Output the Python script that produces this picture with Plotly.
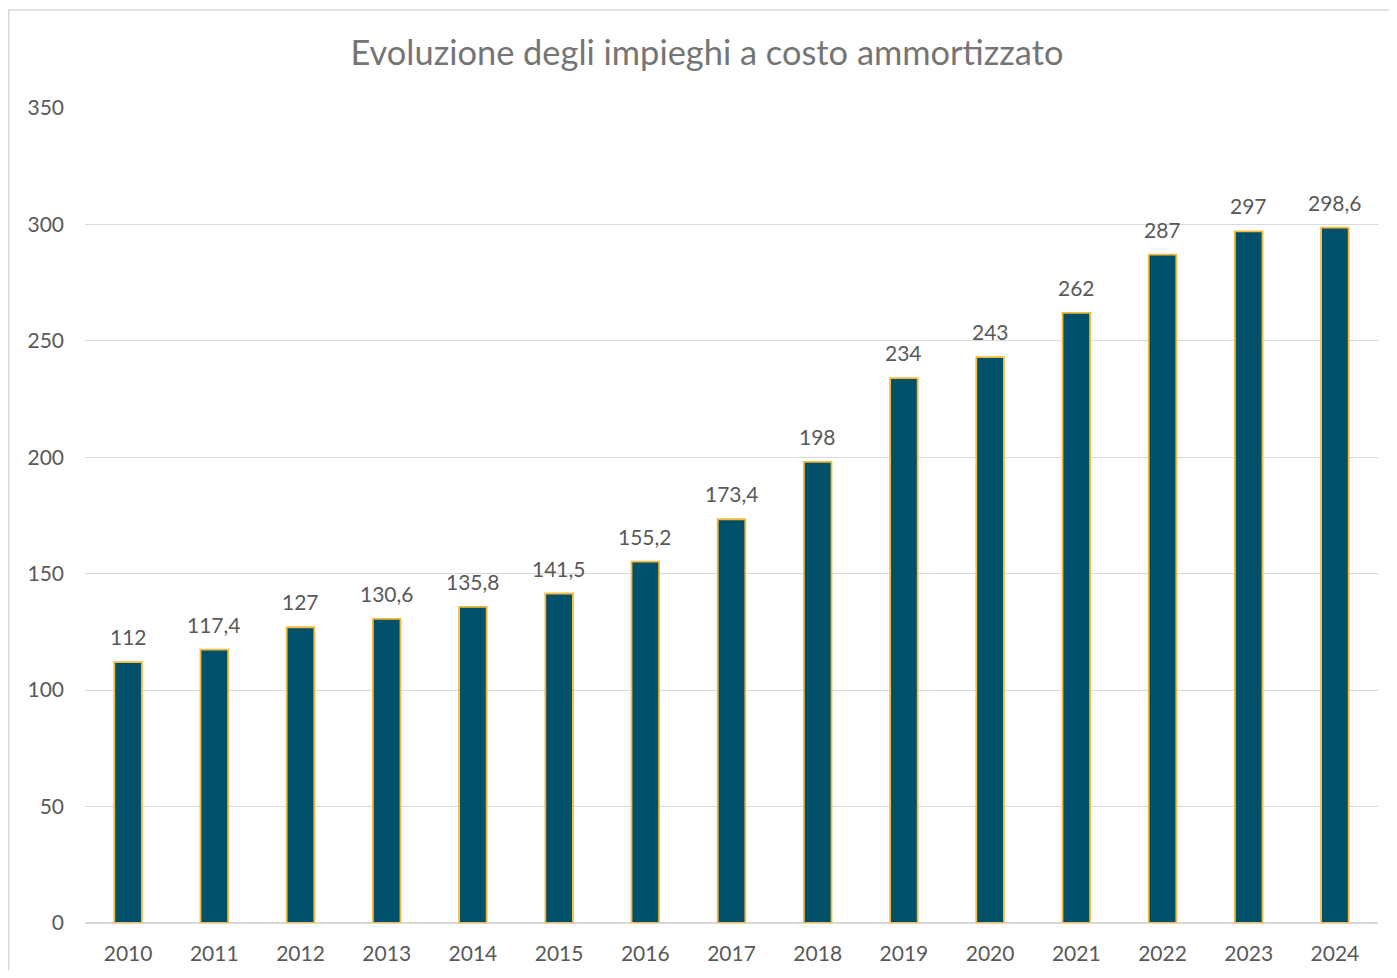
import plotly.graph_objects as go

years = ["2010", "2011", "2012", "2013", "2014", "2015", "2016", "2017",
         "2018", "2019", "2020", "2021", "2022", "2023", "2024"]
values = [112, 117.4, 127, 130.6, 135.8, 141.5, 155.2, 173.4,
          198, 234, 243, 262, 287, 297, 298.6]
y_ticks = [0, 50, 100, 150, 200, 250, 300, 350]
title_text = "Evoluzione degli impieghi a costo ammortizzato"

labels = [(f"{v:g}").replace(".", ",") for v in values]

# page body has an 8px margin, so the figure is sized/offset to compensate
OFF = 8
W, H = 1397 - 2 * OFF, 978 - 2 * OFF
ML = 85 - OFF
MT = 108 - OFF
plot_right = 1378 - OFF
plot_bottom = 923 - OFF
MR = W - plot_right
MB = H - plot_bottom
pw = W - ML - MR
ph = H - MT - MB

FONT = "Lato"
LABEL_COLOR = "#595959"

fig = go.Figure(go.Bar(
    x=years, y=values,
    marker=dict(color="#00506a", line=dict(color="#f6b93b", width=1.8)),
    cliponaxis=False,
))

# data labels: on a category axis, annotation x is the category index
for i, (v, lab) in enumerate(zip(values, labels)):
    fig.add_annotation(x=i, y=v, text=lab, showarrow=False,
                       yanchor="bottom", yshift=11,
                       font=dict(family=FONT, size=21, color=LABEL_COLOR))

fig.update_layout(
    width=W, height=H,
    margin=dict(l=ML, r=MR, t=MT, b=MB),
    paper_bgcolor="white", plot_bgcolor="white",
    bargap=0.68,
    showlegend=False,
    title=dict(text=title_text, x=(707 - OFF - ML) / pw, xref="paper",
               xanchor="center", y=1 - (53 - OFF) / H, yanchor="middle",
               font=dict(family=FONT, size=34.4, color="#757575")),
    xaxis=dict(type="category", categoryorder="array", categoryarray=years,
               range=[-0.5, len(years) - 0.5], automargin=False,
               showgrid=False, showline=False, ticks="",
               ticklabelstandoff=16,
               tickfont=dict(family=FONT, size=21, color=LABEL_COLOR)),
    yaxis=dict(range=[0, 350], tickvals=y_ticks, showgrid=True,
               automargin=False,
               gridcolor="#d9d9d9", gridwidth=1, zeroline=True,
               zerolinecolor="#d9d9d9", zerolinewidth=1.5, showline=False,
               ticks="", ticklabelstandoff=20,
               tickfont=dict(family=FONT, size=21, color=LABEL_COLOR)),
    shapes=[dict(type="rect", xref="paper", yref="paper",
                 x0=(0.75 - ML) / pw, x1=(W + 5 - ML) / pw,
                 y0=-(MB + 5) / ph, y1=1 + (MT - 2) / ph,
                 line=dict(color="#d9d9d9", width=1.5), layer="below")],
)

fig.write_html("out.html")
